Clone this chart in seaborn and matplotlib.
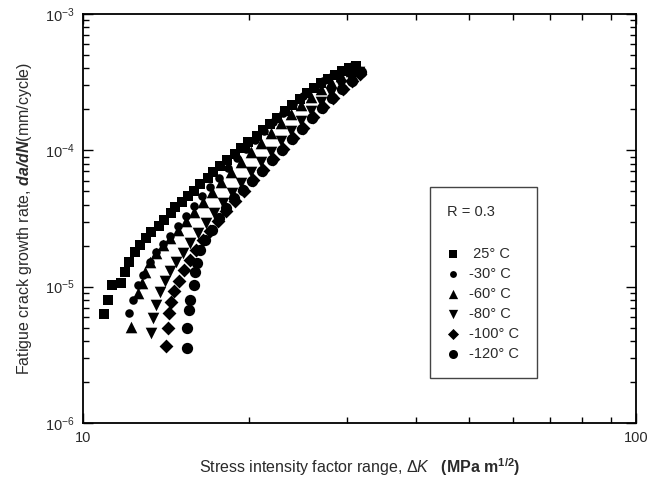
import matplotlib
matplotlib.use("Agg")
import matplotlib.pyplot as plt
import numpy as np
import pandas as pd
import seaborn as sns
from matplotlib.ticker import LogLocator, NullFormatter, FuncFormatter

# ---- data (Delta K in MPa m^1/2, da/dN in mm/cycle) ----
temps = [" 25° C", "-30° C", "-60° C", "-80° C", "-100° C", "-120° C"]

dk_25 = [10.9, 11.1, 11.3, 11.7, 11.9, 12.1, 12.4, 12.7, 13.0, 13.3, 13.7, 14.0, 14.4, 14.7,
         15.1, 15.5, 15.9, 16.3, 16.8, 17.2, 17.7, 18.2, 18.8, 19.3, 19.9, 20.6, 21.2, 21.8,
         22.4, 23.2, 23.9, 24.7, 25.4, 26.2, 26.9, 27.7, 28.6, 29.4, 30.3, 31.2]
da_25 = [6.3e-6, 7.98e-6, 1.03e-5, 1.06e-5, 1.28e-5, 1.51e-5, 1.79e-5, 2.02e-5, 2.27e-5,
         2.52e-5, 2.79e-5, 3.08e-5, 3.47e-5, 3.84e-5, 4.18e-5, 4.62e-5, 5.03e-5, 5.66e-5,
         6.27e-5, 6.93e-5, 7.67e-5, 8.49e-5, 9.4e-5, 1.04e-4, 1.15e-4, 1.27e-4, 1.41e-4,
         1.56e-4, 1.73e-4, 1.94e-4, 2.15e-4, 2.38e-4, 2.63e-4, 2.86e-4, 3.12e-4, 3.34e-4,
         3.57e-4, 3.82e-4, 4.02e-4, 4.15e-4]

dk_m30 = [12.11, 12.31, 12.57, 12.84, 13.22, 13.55, 13.95, 14.36, 14.85, 15.36, 15.87, 16.41,
          16.97, 17.62, 18.29, 18.99, 19.71, 20.46, 21.25, 22.06, 22.99, 23.97, 24.99, 26.06,
          27.16, 28.32, 29.53, 30.65]
da_m30 = [6.40e-6, 7.98e-6, 1.03e-5, 1.22e-5, 1.52e-5, 1.79e-5, 2.05e-5, 2.35e-5, 2.78e-5,
          3.30e-5, 3.90e-5, 4.62e-5, 5.38e-5, 6.26e-5, 7.42e-5, 8.78e-5, 1.02e-4, 1.19e-4,
          1.39e-4, 1.61e-4, 1.88e-4, 2.19e-4, 2.50e-4, 2.87e-4, 3.22e-4, 3.57e-4, 3.88e-4,
          4.16e-4]

dk_m60 = [12.21, 12.57, 12.78, 12.95, 13.22, 13.55, 13.95, 14.36, 14.85, 15.36, 15.87, 16.48,
          17.11, 17.76, 18.52, 19.31, 20.13, 20.98, 21.88, 22.80, 23.77, 24.79, 25.84, 26.94,
          28.08, 29.28, 30.52, 31.42]
da_m60 = [5.05e-6, 8.97e-6, 1.06e-5, 1.28e-5, 1.52e-5, 1.76e-5, 2.02e-5, 2.27e-5, 2.60e-5,
          3.03e-5, 3.53e-5, 4.18e-5, 4.94e-5, 5.85e-5, 6.93e-5, 8.21e-5, 9.72e-5, 1.13e-4,
          1.34e-4, 1.59e-4, 1.85e-4, 2.15e-4, 2.46e-4, 2.82e-4, 3.17e-4, 3.51e-4, 3.82e-4,
          4.09e-4]

dk_m80 = [13.27, 13.39, 13.55, 13.78, 14.07, 14.36, 14.73, 15.16, 15.61, 16.14, 16.69, 17.26,
          17.91, 18.60, 19.31, 20.13, 20.98, 21.88, 22.80, 23.77, 24.79, 25.84, 26.94, 28.08,
          29.28, 30.52, 31.56]
da_m80 = [4.57e-6, 5.88e-6, 7.33e-6, 9.13e-6, 1.10e-5, 1.30e-5, 1.52e-5, 1.76e-5, 2.09e-5,
          2.47e-5, 2.93e-5, 3.47e-5, 4.11e-5, 4.86e-5, 5.76e-5, 6.93e-5, 8.21e-5, 9.72e-5,
          1.17e-4, 1.39e-4, 1.64e-4, 1.94e-4, 2.26e-4, 2.63e-4, 3.01e-4, 3.39e-4, 3.75e-4]

dk_m100 = [14.13, 14.24, 14.30, 14.42, 14.60, 14.91, 15.23, 15.61, 16.01, 16.48, 16.97, 17.54,
           18.14, 18.84, 19.55, 20.30, 21.16, 22.06, 22.99, 23.97, 24.99, 26.06, 27.16, 28.32,
           29.53, 30.65, 31.69]
da_m100 = [3.67e-6, 4.97e-6, 6.40e-6, 7.71e-6, 9.28e-6, 1.10e-5, 1.32e-5, 1.57e-5, 1.86e-5,
           2.20e-5, 2.56e-5, 3.03e-5, 3.59e-5, 4.25e-5, 5.03e-5, 6.06e-5, 7.17e-5, 8.63e-5,
           1.02e-4, 1.23e-4, 1.46e-4, 1.76e-4, 2.08e-4, 2.42e-4, 2.82e-4, 3.22e-4, 3.63e-4]

dk_m120 = [15.42, 15.42, 15.55, 15.61, 15.87, 15.94, 16.08, 16.27, 16.62, 17.11, 17.62, 18.14,
           18.76, 19.47, 20.21, 21.07, 21.97, 22.90, 23.88, 24.89, 25.95, 27.05, 28.20, 29.41,
           30.65, 31.82]
da_m120 = [3.55e-6, 4.97e-6, 6.73e-6, 7.98e-6, 1.03e-5, 1.28e-5, 1.49e-5, 1.86e-5, 2.20e-5,
           2.60e-5, 3.19e-5, 3.77e-5, 4.47e-5, 5.11e-5, 5.96e-5, 7.05e-5, 8.49e-5, 1.01e-4,
           1.21e-4, 1.43e-4, 1.73e-4, 2.04e-4, 2.42e-4, 2.82e-4, 3.22e-4, 3.75e-4]

dks = [dk_25, dk_m30, dk_m60, dk_m80, dk_m100, dk_m120]
das = [da_25, da_m30, da_m60, da_m80, da_m100, da_m120]

frames = [pd.DataFrame({"dK": k, "rate": r, "T": t}) for t, k, r in zip(temps, dks, das)]
df = pd.concat(frames, ignore_index=True)

# ---- styling ----
sns.set_style("ticks")
plt.rcParams["font.family"] = ["Liberation Sans", "DejaVu Sans"]
plt.rcParams["mathtext.fontset"] = "custom"
plt.rcParams["mathtext.rm"] = "Liberation Sans"
plt.rcParams["mathtext.it"] = "Liberation Sans:italic"
plt.rcParams["mathtext.bf"] = "Liberation Sans:bold"
try:
    plt.rcParams["mathtext.bfit"] = "Liberation Sans:bold:italic"
    bfit_ok = True
except Exception:
    bfit_ok = False

txt = "#2a2a2a"
markers = ["s", "o", "^", "v", "D", "o"]
sizes = [56, 38, 70, 70, 50, 66]

fig = plt.figure(figsize=(6.67, 4.84), dpi=100)
ax = fig.add_axes([0.1244, 0.126, 0.829, 0.845])

for t, mk, sz in zip(temps, markers, sizes):
    sub = df[df["T"] == t]
    sns.scatterplot(data=sub, x="dK", y="rate", marker=mk, s=sz, color="black",
                    linewidth=0, ax=ax, label=t, legend=True)

ax.set_xscale("log")
ax.set_yscale("log")
ax.set_xlim(10, 100)
ax.set_ylim(1e-6, 1e-3)

ax.xaxis.set_major_locator(LogLocator(base=10))
ax.xaxis.set_minor_locator(LogLocator(base=10, subs=np.arange(2, 10)))
ax.xaxis.set_major_formatter(FuncFormatter(lambda v, p: f"{v:g}"))
ax.xaxis.set_minor_formatter(NullFormatter())
ax.yaxis.set_minor_locator(LogLocator(base=10, subs=np.arange(2, 10)))
ax.yaxis.set_minor_formatter(NullFormatter())
ax.yaxis.set_major_formatter(FuncFormatter(lambda v, p: r"$10^{%d}$" % round(np.log10(v))))

ax.tick_params(which="both", direction="in", top=True, right=True, colors="black",
               labelcolor=txt, labelsize=10.5, width=1.0)
ax.tick_params(which="major", length=7, pad=6)
ax.tick_params(which="minor", length=4)
for sp in ax.spines.values():
    sp.set_linewidth(1.3)
    sp.set_color("black")

if bfit_ok:
    ylab = r"Fatigue crack growth rate, $\mathbfit{da/dN}$(mm/cycle)"
else:
    ylab = r"Fatigue crack growth rate, $\mathbf{da/dN}$(mm/cycle)"
ax.set_ylabel(ylab, fontsize=11.5, color=txt, labelpad=8)
ax.set_xlabel(r"Stress intensity factor range, $\mathit{\Delta K}$   $\mathbf{(MPa\ m^{1/2})}$",
              fontsize=11.5, color=txt, labelpad=8)

leg = ax.legend(title="R = 0.3\n", loc="upper left", bbox_to_anchor=(0.627, 0.577),
                borderaxespad=0, frameon=True, fancybox=False, edgecolor="#444444",
                framealpha=1, fontsize=10.5, title_fontsize=10.5, handlelength=0.8,
                handletextpad=0.7, labelspacing=0.41, borderpad=1.2, alignment="left",
                markerscale=0.8)
leg.get_frame().set_linewidth(1.0)
leg.get_title().set_linespacing(1.75)
for t in leg.get_texts():
    t.set_color(txt)
leg.get_title().set_color(txt)

fig.savefig("out.png", dpi=100)
